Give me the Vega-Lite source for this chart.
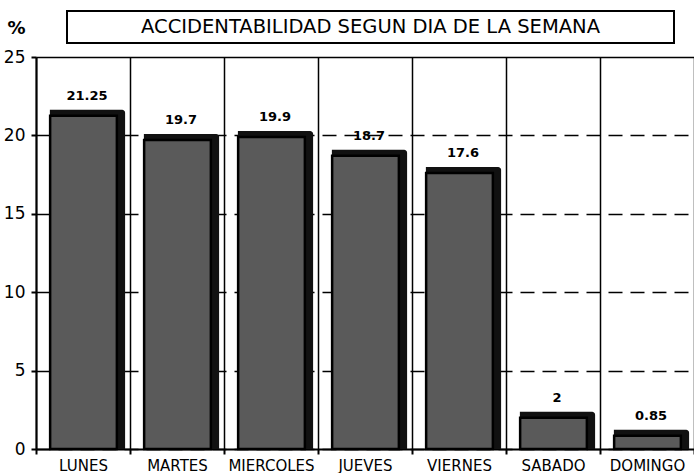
{
  "$schema": "https://vega.github.io/schema/vega-lite/v6.json",
  "padding": {"left": 3, "top": 10, "right": 0, "bottom": 0},
  "background": "white",
  "config": {"view": {"stroke": null}, "font": "DejaVu Sans"},
  "datasets": {
    "days": [
      {"day": "LUNES", "value": 21.25, "label": "21.25"},
      {"day": "MARTES", "value": 19.7, "label": "19.7"},
      {"day": "MIERCOLES", "value": 19.9, "label": "19.9"},
      {"day": "JUEVES", "value": 18.7, "label": "18.7"},
      {"day": "VIERNES", "value": 17.6, "label": "17.6"},
      {"day": "SABADO", "value": 2, "label": "2"},
      {"day": "DOMINGO", "value": 0.85, "label": "0.85"}
    ]
  },
  "spacing": 4,
  "vconcat": [
    {
      "spacing": 29,
      "hconcat": [
        {
          "width": 1,
          "height": 32,
          "data": {"values": [{"t": "%"}]},
          "mark": {"type": "text", "fontSize": 18, "fontWeight": "bold", "color": "black", "dx": -20, "dy": 2},
          "encoding": {"text": {"field": "t", "type": "nominal"}}
        },
        {
          "width": 607,
          "height": 32,
          "view": {"stroke": "black", "strokeWidth": 2},
          "data": {"values": [{"t": "ACCIDENTABILIDAD SEGUN DIA DE LA SEMANA"}]},
          "mark": {"type": "text", "fontSize": 19.5, "color": "black"},
          "encoding": {"text": {"field": "t", "type": "nominal"}}
        }
      ]
    },
    {
      "width": 658,
      "height": 392,
      "data": {"name": "days"},
      "layer": [
        {
          "mark": {"type": "bar", "color": "#111111", "width": {"band": 0.8}, "xOffset": 4.5, "yOffset": -6, "y2Offset": 0.01, "cornerRadiusTopRight": 3},
          "encoding": {
            "x": {
              "field": "day", "type": "nominal", "sort": null,
              "scale": {"paddingInner": 0, "paddingOuter": 0},
              "axis": {
                "title": null, "labelAngle": 0, "labelFontSize": 15, "labelColor": "black", "labelPadding": 4,
                "tickBand": "extent", "tickSize": 5, "tickColor": "black", "tickWidth": 2,
                "domainColor": "black", "domainWidth": 2,
                "grid": true, "gridColor": "black", "gridWidth": 1.5
              }
            },
            "y": {
              "field": "value", "type": "quantitative",
              "scale": {"domain": [0, 25], "nice": false},
              "axis": {
                "title": null, "values": [0, 5, 10, 15, 20, 25], "labelFontSize": 17, "labelColor": "black", "labelPadding": 6,
                "tickSize": 5, "tickColor": "black", "tickWidth": 2,
                "domainColor": "black", "domainWidth": 2,
                "grid": true, "gridColor": "black", "gridWidth": 1.5,
                "gridDash": {"condition": {"test": "datum.value === 25", "value": []}, "value": [14, 8]}
              }
            },
            "y2": {"datum": 0}
          }
        },
        {
          "mark": {"type": "bar", "fill": "#5a5a5a", "stroke": "black", "strokeWidth": 2.5, "width": {"band": 0.71}, "xOffset": 0.5},
          "encoding": {
            "x": {"field": "day", "type": "nominal", "sort": null},
            "y": {"field": "value", "type": "quantitative"}
          }
        },
        {
          "mark": {"type": "text", "baseline": "bottom", "dy": -13, "xOffset": 4, "fontSize": 13, "fontWeight": "bold", "color": "black"},
          "encoding": {
            "x": {"field": "day", "type": "nominal", "sort": null},
            "y": {"field": "value", "type": "quantitative"},
            "text": {"field": "label", "type": "nominal"}
          }
        }
      ]
    }
  ]
}
